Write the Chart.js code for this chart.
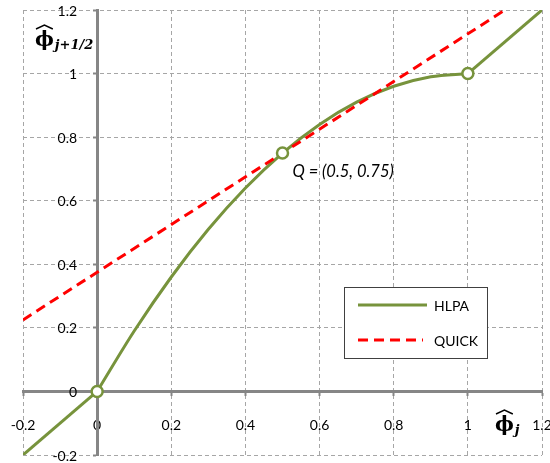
<!DOCTYPE html>
<html>
<head>
<meta charset="utf-8">
<script src="https://cdn.jsdelivr.net/npm/chart.js@4"></script>
<style>
  html, body { margin: 0; padding: 0; background: #fff; }
  #wrap { width: 550px; height: 463px; }
</style>
</head>
<body>
<div id="wrap"><canvas id="chart"></canvas></div>
<script>
// tick values shared by both axes
const axisTicks = [-0.2, 0, 0.2, 0.4, 0.6, 0.8, 1, 1.2];

// HLPA: linear below 0, curved between 0 and 1, linear above 1
const hlpaLowX = [-0.2, 0];
const hlpaLowY = [-0.2, 0];
const hlpaX = [0, 0.1, 0.2, 0.3, 0.4, 0.5, 0.6, 0.7, 0.8, 0.9, 1];
const hlpaY = [0, 0.19, 0.36, 0.51, 0.64, 0.75, 0.84, 0.91, 0.96, 0.99, 1];
const hlpaHighX = [1, 1.2];
const hlpaHighY = [1, 1.2];

// QUICK straight line
const quickX = [-0.2, 1.1];
const quickY = [0.225, 1.2];

// open circle markers
const markX = [0, 0.5, 1];
const markY = [0, 0.75, 1];

const GREEN = '#77933C';
const RED = '#FF0000';
const AXIS_GRAY = '#868686';
const GRID_GRAY = '#A6A6A6';
const TICK_FONT = '14px Lato';

const pts = (xs, ys) => xs.map((x, i) => ({ x, y: ys[i] }));
const fmt = v => String(Math.round(v * 10) / 10);

const lineDefaults = { showLine: true, pointRadius: 0, pointHoverRadius: 0, fill: false };

// order: lower numbers are drawn on top (markers > QUICK > HLPA)
const datasets = [
  { ...lineDefaults, label: 'QUICK', data: pts(quickX, quickY), order: 1,
    borderColor: RED, borderWidth: 3, borderDash: [10, 6] },
  { ...lineDefaults, label: '', data: pts(hlpaLowX, hlpaLowY), order: 2, borderColor: GREEN, borderWidth: 3 },
  { ...lineDefaults, label: 'HLPA', data: pts(hlpaX, hlpaY), order: 2, borderColor: GREEN, borderWidth: 3,
    cubicInterpolationMode: 'monotone' },
  { ...lineDefaults, label: '', data: pts(hlpaHighX, hlpaHighY), order: 2, borderColor: GREEN, borderWidth: 3 },
  { label: '', data: pts(markX, markY), order: 0, showLine: false, pointRadius: 5.5, pointBorderWidth: 2.5,
    pointBackgroundColor: '#fff', pointBorderColor: GREEN, pointHoverRadius: 5.5 }
];

// y tick labels: chart.js ignores ticks.padding for an axis placed at a value,
// so they are drawn here, a bit to the left of the vertical axis
const yLabels = {
  id: 'yLabels',
  afterDatasetsDraw(chart) {
    const ctx = chart.ctx;
    const sx = chart.scales.x, sy = chart.scales.y;
    const x = sx.getPixelForValue(0) - 20;
    ctx.save();
    ctx.font = TICK_FONT;
    ctx.fillStyle = '#000';
    ctx.textAlign = 'right';
    ctx.textBaseline = 'middle';
    axisTicks.forEach(v => ctx.fillText(fmt(v), x, sy.getPixelForValue(v) + 1));
    ctx.restore();
  }
};

// legend box drawn inside the plot
const boxLegend = {
  id: 'boxLegend',
  afterDraw(chart) {
    const ctx = chart.ctx;
    const entries = [chart.data.datasets[2], chart.data.datasets[0]];
    const x0 = 344, y0 = 287, w = 143, h = 71;
    ctx.save();
    ctx.fillStyle = '#fff';
    ctx.fillRect(x0, y0, w, h);
    ctx.strokeStyle = '#404040';
    ctx.lineWidth = 1;
    ctx.strokeRect(x0 + 0.5, y0 + 0.5, w, h);
    entries.forEach((ds, i) => {
      const y = y0 + 18 + i * 35;
      ctx.strokeStyle = ds.borderColor;
      ctx.lineWidth = ds.borderWidth;
      ctx.setLineDash(ds.borderDash || []);
      ctx.beginPath();
      ctx.moveTo(x0 + 14, y);
      ctx.lineTo(x0 + (ds.borderDash ? 79 : 83), y);
      ctx.stroke();
      ctx.setLineDash([]);
      ctx.fillStyle = '#000';
      ctx.font = TICK_FONT;
      ctx.textBaseline = 'middle';
      ctx.fillText(ds.label, x0 + 90, y + 1);
    });
    ctx.restore();
  }
};

function drawPhi(ctx, x, y, sub) {
  // bold phi with a hat, then an italic subscript
  ctx.font = 'bold 20px "DejaVu Serif"';
  ctx.textBaseline = 'alphabetic';
  ctx.textAlign = 'left';
  ctx.fillStyle = '#000';
  ctx.fillText('ϕ', x, y);
  const w = ctx.measureText('ϕ').width;
  ctx.strokeStyle = '#000';
  ctx.lineWidth = 1.4;
  ctx.beginPath();
  ctx.moveTo(x + 1, y - 17);
  ctx.lineTo(x + w / 2, y - 21);
  ctx.lineTo(x + w - 1, y - 17);
  ctx.stroke();
  ctx.font = 'bold italic 13px "DejaVu Serif"';
  ctx.fillText(sub, x + w + 1, y + 3);
}

const annotations = {
  id: 'annotations',
  afterDraw(chart) {
    const ctx = chart.ctx;
    const sx = chart.scales.x, sy = chart.scales.y;
    ctx.save();
    drawPhi(ctx, 35, 46, 'j+1/2');
    drawPhi(ctx, 495, 431, 'j');
    ctx.font = 'italic 16.5px Lato';
    ctx.fillStyle = '#000';
    ctx.textBaseline = 'middle';
    ctx.fillText('Q = (0.5, 0.75)', sx.getPixelForValue(markX[1]) + 10, sy.getPixelForValue(markY[1]) + 19);
    ctx.restore();
  }
};

const axisOpts = (pos, showLabels) => ({
  type: 'linear',
  position: pos,
  min: -0.2,
  max: 1.2,
  afterBuildTicks: s => { s.ticks = axisTicks.map(v => ({ value: v })); },
  // axes sit inside the plot, so they should not push the plot edges inwards
  afterFit: s => { s.paddingLeft = s.paddingRight = s.paddingTop = s.paddingBottom = 0; },
  grid: { color: GRID_GRAY, lineWidth: 1, tickLength: 3, tickColor: AXIS_GRAY, tickWidth: 2 },
  border: { display: true, color: AXIS_GRAY, width: 3, dash: [4, 3] },
  ticks: { display: showLabels, color: '#000', font: { family: 'Lato', size: 14 }, padding: 23,
    maxRotation: 0, callback: fmt }
});

new Chart(document.getElementById('chart'), {
  type: 'scatter',
  data: { datasets },
  options: {
    responsive: true,
    maintainAspectRatio: false,
    animation: false,
    layout: { padding: { left: 23, right: 7, top: 10, bottom: 7 } },
    plugins: { legend: { display: false }, tooltip: { enabled: false } },
    scales: {
      x: axisOpts({ y: 0 }, true),
      y: axisOpts({ x: 0 }, false)
    }
  },
  plugins: [yLabels, boxLegend, annotations]
});
</script>
</body>
</html>
